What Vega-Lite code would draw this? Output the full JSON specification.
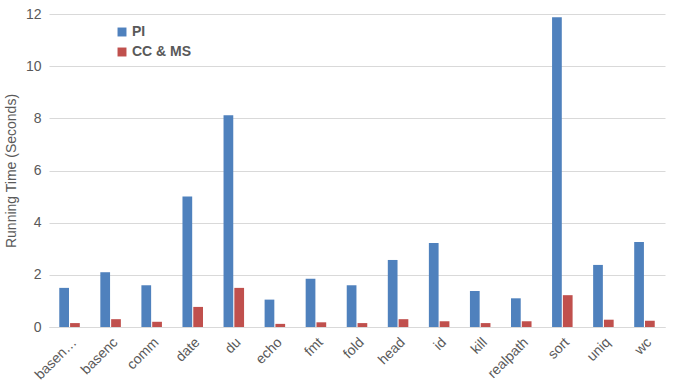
{
  "$schema": "https://vega.github.io/schema/vega-lite/v6.json",
  "width": 616,
  "height": 313,
  "autosize": "none",
  "padding": {"left": 49, "top": 14, "right": 9, "bottom": 60},
  "background": "white",
  "config": {
    "font": "Liberation Sans",
    "view": {"stroke": null}
  },
  "data": {
    "values": [
      {"cmd": "basename", "series": "PI", "time": 1.5},
      {"cmd": "basename", "series": "CC & MS", "time": 0.15},
      {"cmd": "basenc", "series": "PI", "time": 2.1},
      {"cmd": "basenc", "series": "CC & MS", "time": 0.3},
      {"cmd": "comm", "series": "PI", "time": 1.6},
      {"cmd": "comm", "series": "CC & MS", "time": 0.2},
      {"cmd": "date", "series": "PI", "time": 5.0},
      {"cmd": "date", "series": "CC & MS", "time": 0.77},
      {"cmd": "du", "series": "PI", "time": 8.12},
      {"cmd": "du", "series": "CC & MS", "time": 1.5},
      {"cmd": "echo", "series": "PI", "time": 1.05},
      {"cmd": "echo", "series": "CC & MS", "time": 0.12},
      {"cmd": "fmt", "series": "PI", "time": 1.85},
      {"cmd": "fmt", "series": "CC & MS", "time": 0.18},
      {"cmd": "fold", "series": "PI", "time": 1.6},
      {"cmd": "fold", "series": "CC & MS", "time": 0.15},
      {"cmd": "head", "series": "PI", "time": 2.57},
      {"cmd": "head", "series": "CC & MS", "time": 0.3},
      {"cmd": "id", "series": "PI", "time": 3.22},
      {"cmd": "id", "series": "CC & MS", "time": 0.22},
      {"cmd": "kill", "series": "PI", "time": 1.38},
      {"cmd": "kill", "series": "CC & MS", "time": 0.15},
      {"cmd": "realpath", "series": "PI", "time": 1.1},
      {"cmd": "realpath", "series": "CC & MS", "time": 0.22},
      {"cmd": "sort", "series": "PI", "time": 11.88},
      {"cmd": "sort", "series": "CC & MS", "time": 1.22},
      {"cmd": "uniq", "series": "PI", "time": 2.38},
      {"cmd": "uniq", "series": "CC & MS", "time": 0.28},
      {"cmd": "wc", "series": "PI", "time": 3.26},
      {"cmd": "wc", "series": "CC & MS", "time": 0.24}
    ]
  },
  "mark": {"type": "bar"},
  "encoding": {
    "x": {
      "field": "cmd",
      "type": "nominal",
      "sort": null,
      "title": null,
      "scale": {"paddingInner": 0.5, "paddingOuter": 0.25},
      "axis": {
        "labelAngle": -45,
        "labelFontSize": 14,
        "labelColor": "#595959",
        "labelExpr": "datum.value == 'basename' ? 'basen…' : datum.value",
        "ticks": false,
        "domainColor": "#d9d9d9",
        "labelPadding": 8
      }
    },
    "xOffset": {"field": "series", "type": "nominal", "sort": ["PI", "CC & MS"], "scale": {"paddingInner": 0.1}},
    "y": {
      "field": "time",
      "type": "quantitative",
      "title": "Running Time (Seconds)",
      "scale": {"domain": [0, 12]},
      "axis": {
        "values": [0, 2, 4, 6, 8, 10, 12],
        "labelFontSize": 14,
        "labelColor": "#595959",
        "titleFontSize": 14,
        "titleFontWeight": "normal",
        "titleColor": "#595959",
        "titlePadding": 7,
        "domain": false,
        "ticks": false,
        "gridColor": "#d9d9d9",
        "labelPadding": 8
      }
    },
    "color": {
      "field": "series",
      "type": "nominal",
      "sort": ["PI", "CC & MS"],
      "scale": {"domain": ["PI", "CC & MS"], "range": ["#4F81BD", "#C0504D"]},
      "legend": {
        "title": null,
        "orient": "none",
        "legendX": 66,
        "legendY": 11,
        "symbolType": "square",
        "symbolSize": 80,
        "symbolStrokeWidth": 0,
        "labelFontSize": 14,
        "labelFontWeight": "bold",
        "labelColor": "#595959",
        "rowPadding": 6,
        "labelOffset": 3
      }
    }
  }
}
